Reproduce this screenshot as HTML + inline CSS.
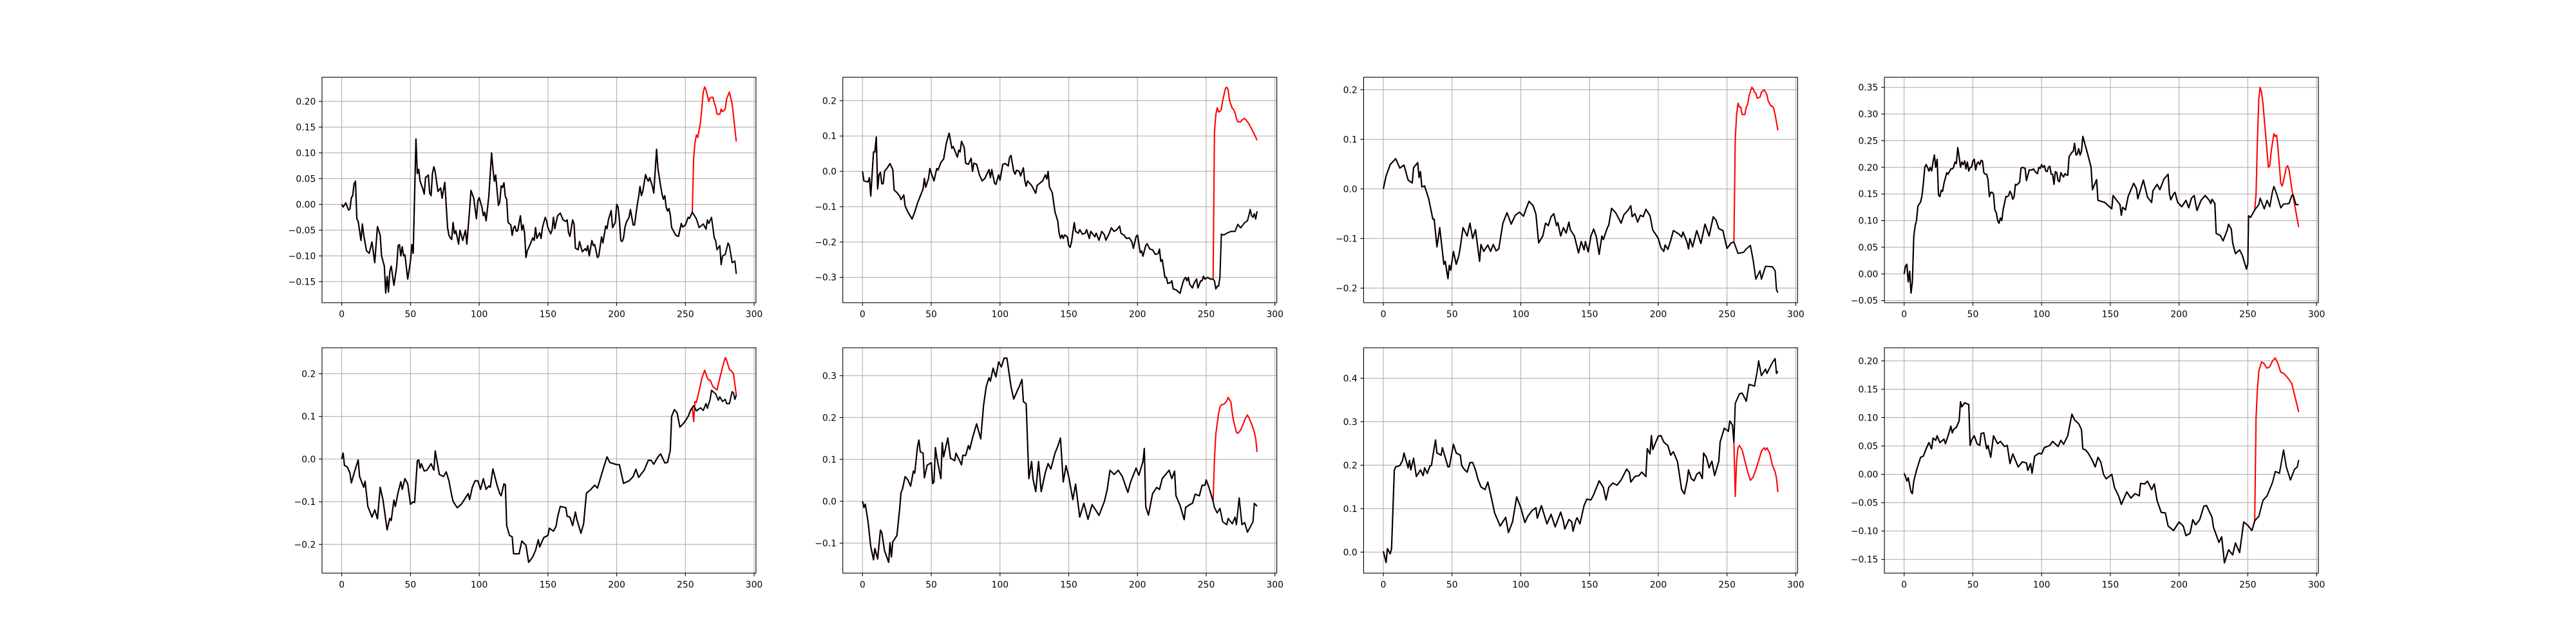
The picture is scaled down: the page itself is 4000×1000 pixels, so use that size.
<!DOCTYPE html>
<html><head><meta charset="utf-8"><style>
html,body{margin:0;padding:0;background:#fff;}
svg{display:block;}
text{font-family:"DejaVu Sans","Liberation Sans",sans-serif;font-size:13.9px;fill:#000;}
</style></head><body>
<svg id="fig" width="4000" height="1000" viewBox="0 0 4000 1000" xmlns="http://www.w3.org/2000/svg">
<rect x="0" y="0" width="4000" height="1000" fill="#fff"/>
</svg>
<script>
// ---- data: [x, value] pairs ----
const p1Black=[[0,0],[1,-0.005],[3,0.003],[5,-0.011],[6,-0.009],[7,0.013],[8,0.017],[9,0.04],[10,0.045],[11,-0.028],[12,-0.033],[14,-0.07],[15,-0.038],[16,-0.06],[18,-0.09],[20,-0.095],[22,-0.073],[24,-0.113],[26,-0.043],[28,-0.06],[29,-0.1],[31,-0.12],[32,-0.172],[33,-0.14],[34,-0.17],[35,-0.13],[36,-0.12],[38,-0.157],[40,-0.12],[41,-0.08],[42,-0.078],[43,-0.1],[44,-0.082],[45,-0.1],[46,-0.098],[48,-0.145],[50,-0.11],[51,-0.078],[52,-0.095],[54,0.127],[55,0.06],[56,0.068],[57,0.045],[59,0.03],[60,0.02],[61,0.052],[63,0.057],[64,0.022],[65,0.017],[66,0.06],[67,0.073],[68,0.063],[70,0.025],[72,0.032],[73,0.012],[75,0.043],[77,-0.045],[78,-0.06],[79,-0.065],[80,-0.068],[81,-0.035],[82,-0.057],[83,-0.051],[85,-0.077],[86,-0.05],[88,-0.07],[90,-0.05],[91,-0.077],[93,-0.01],[94,0.027],[95,0.02],[96,0.012],[98,-0.028],[99,0.007],[100,0.013],[102,-0.006],[103,-0.022],[104,-0.015],[105,-0.032],[107,0.015],[109,0.1],[110,0.07],[111,0.045],[112,0.057],[114,-0.002],[115,0.005],[116,0.036],[117,0.033],[118,0.042],[119,0.015],[120,0.01],[121,-0.035],[123,-0.04],[124,-0.06],[125,-0.045],[126,-0.042],[127,-0.052],[128,-0.051],[130,-0.022],[131,-0.05],[132,-0.04],[133,-0.055],[134,-0.103],[135,-0.09],[137,-0.078],[139,-0.065],[140,-0.07],[141,-0.045],[142,-0.066],[144,-0.055],[145,-0.066],[146,-0.045],[148,-0.025],[149,-0.032],[150,-0.045],[152,-0.057],[153,-0.05],[154,-0.025],[155,-0.047],[157,-0.022],[159,-0.017],[161,-0.03],[163,-0.033],[164,-0.03],[165,-0.055],[166,-0.062],[168,-0.03],[169,-0.038],[170,-0.085],[172,-0.088],[173,-0.072],[175,-0.092],[177,-0.086],[178,-0.09],[179,-0.08],[180,-0.1],[182,-0.07],[183,-0.08],[184,-0.078],[185,-0.09],[186,-0.103],[187,-0.1],[189,-0.063],[190,-0.075],[192,-0.042],[193,-0.047],[194,-0.03],[196,-0.012],[197,-0.045],[199,-0.035],[200,0],[201,-0.005],[202,-0.03],[203,-0.07],[204,-0.072],[205,-0.065],[206,-0.045],[207,-0.035],[209,-0.025],[210,-0.01],[212,-0.04],[213,-0.04],[215,0],[216,0.015],[217,0.035],[218,0.017],[219,0.025],[221,0.058],[222,0.05],[223,0.045],[224,0.052],[226,0.035],[227,0.022],[229,0.107],[230,0.07],[232,0.035],[233,0.02],[234,0.01],[235,0.017],[236,-0.005],[237,-0.013],[238,-0.008],[239,-0.02],[240,-0.045],[242,-0.055],[243,-0.06],[245,-0.062],[247,-0.037],[248,-0.044],[250,-0.04],[252,-0.025],[253,-0.027],[255,-0.015],[258,-0.028],[260,-0.045],[263,-0.038],[265,-0.048],[266,-0.03],[267,-0.037],[269,-0.025],[271,-0.065],[272,-0.07],[273,-0.088],[275,-0.08],[276,-0.117],[277,-0.1],[279,-0.097],[281,-0.075],[282,-0.08],[284,-0.113],[286,-0.11],[287,-0.135]];
const p1Red=[[255,-0.015],[256,0.09],[257,0.12],[258,0.135],[259,0.13],[261,0.16],[263,0.218],[264,0.228],[265,0.222],[267,0.2],[268,0.207],[270,0.208],[271,0.197],[272,0.19],[273,0.175],[275,0.175],[276,0.185],[277,0.18],[279,0.185],[280,0.205],[282,0.218],[284,0.195],[287,0.122]];

const p2Black=[[0,0],[1,-0.027],[4,-0.03],[5,-0.018],[6,-0.07],[8,0.055],[9,0.055],[10,0.097],[11,-0.05],[12,-0.01],[13,-0.003],[14,-0.035],[15,-0.035],[16,0],[18,0.01],[20,0.022],[22,0.005],[23,-0.053],[25,-0.06],[27,-0.07],[28,-0.08],[30,-0.067],[31,-0.098],[33,-0.115],[36,-0.135],[38,-0.115],[40,-0.09],[42,-0.07],[44,-0.05],[45,-0.02],[46,-0.045],[48,-0.02],[49,0.008],[50,-0.005],[52,-0.027],[54,0.008],[55,0.004],[57,0.025],[59,0.035],[61,0.08],[63,0.108],[65,0.065],[66,0.07],[68,0.05],[69,0.04],[70,0.06],[71,0.055],[72,0.085],[74,0.067],[75,0.023],[77,0.02],[79,0.037],[80,0],[81,0.023],[83,0.02],[85,-0.01],[87,-0.027],[89,-0.02],[92,0.005],[93,-0.018],[94,0.005],[96,-0.033],[97,-0.037],[99,-0.01],[100,-0.025],[102,0.02],[104,0.022],[106,0.015],[107,0.04],[108,0.045],[110,0],[111,-0.008],[112,0.003],[114,0],[115,-0.013],[117,0.01],[118,-0.025],[119,-0.042],[120,-0.027],[123,-0.04],[126,-0.062],[127,-0.04],[131,-0.027],[133,-0.01],[134,-0.022],[135,0],[136,-0.045],[138,-0.06],[140,-0.115],[142,-0.14],[143,-0.175],[144,-0.19],[145,-0.18],[146,-0.19],[147,-0.18],[149,-0.185],[150,-0.21],[151,-0.215],[152,-0.2],[154,-0.145],[155,-0.17],[157,-0.175],[158,-0.165],[160,-0.178],[162,-0.175],[163,-0.165],[165,-0.19],[166,-0.17],[169,-0.185],[170,-0.175],[172,-0.195],[174,-0.17],[176,-0.18],[177,-0.195],[179,-0.18],[181,-0.16],[183,-0.17],[185,-0.165],[187,-0.155],[188,-0.175],[190,-0.18],[192,-0.19],[194,-0.188],[196,-0.2],[197,-0.218],[199,-0.185],[200,-0.18],[202,-0.23],[203,-0.225],[204,-0.24],[206,-0.21],[207,-0.205],[209,-0.22],[211,-0.222],[213,-0.235],[215,-0.233],[216,-0.22],[217,-0.255],[218,-0.25],[220,-0.3],[221,-0.3],[222,-0.317],[224,-0.315],[225,-0.31],[226,-0.333],[228,-0.335],[231,-0.345],[233,-0.315],[234,-0.305],[235,-0.3],[236,-0.31],[237,-0.3],[238,-0.32],[240,-0.33],[241,-0.318],[243,-0.305],[244,-0.33],[246,-0.31],[247,-0.31],[248,-0.297],[249,-0.305],[251,-0.3],[253,-0.305],[255,-0.305],[256,-0.31],[257,-0.333],[258,-0.325],[259,-0.325],[260,-0.3],[261,-0.178],[263,-0.18],[265,-0.175],[268,-0.17],[271,-0.17],[273,-0.15],[275,-0.16],[276,-0.155],[278,-0.145],[280,-0.14],[281,-0.125],[282,-0.108],[283,-0.125],[284,-0.13],[285,-0.12],[286,-0.135],[287,-0.113]];
const p2Red=[[255,-0.305],[256,0.11],[257,0.16],[258,0.18],[259,0.168],[260,0.17],[261,0.175],[262,0.2],[264,0.235],[265,0.238],[266,0.23],[267,0.2],[269,0.178],[270,0.175],[271,0.165],[272,0.15],[273,0.14],[275,0.14],[276,0.145],[278,0.15],[279,0.145],[281,0.135],[283,0.12],[285,0.105],[287,0.088]];

const p3Black=[[0,0],[2,0.026],[5,0.049],[9,0.061],[12,0.042],[15,0.048],[18,0.018],[21,0.012],[22,0.043],[25,0.053],[26,0.023],[27,0.035],[28,0.004],[30,0.006],[33,-0.02],[36,-0.061],[37,-0.061],[39,-0.117],[41,-0.078],[44,-0.152],[45,-0.146],[47,-0.181],[48,-0.154],[49,-0.164],[51,-0.126],[53,-0.152],[55,-0.134],[56,-0.117],[58,-0.078],[61,-0.095],[63,-0.069],[65,-0.1],[67,-0.082],[70,-0.146],[71,-0.112],[73,-0.126],[76,-0.113],[78,-0.126],[80,-0.112],[82,-0.125],[84,-0.121],[87,-0.069],[90,-0.048],[93,-0.071],[96,-0.053],[99,-0.047],[102,-0.055],[104,-0.039],[106,-0.025],[109,-0.034],[111,-0.051],[113,-0.109],[116,-0.095],[118,-0.069],[120,-0.074],[122,-0.056],[124,-0.05],[126,-0.074],[127,-0.068],[129,-0.095],[131,-0.078],[133,-0.089],[135,-0.067],[136,-0.082],[139,-0.095],[142,-0.129],[144,-0.106],[146,-0.123],[147,-0.106],[149,-0.127],[151,-0.095],[153,-0.081],[155,-0.097],[157,-0.132],[159,-0.095],[160,-0.102],[163,-0.078],[164,-0.073],[166,-0.039],[169,-0.048],[173,-0.069],[175,-0.052],[178,-0.043],[180,-0.034],[181,-0.056],[183,-0.05],[185,-0.067],[187,-0.053],[189,-0.056],[191,-0.041],[194,-0.054],[196,-0.083],[198,-0.091],[200,-0.1],[202,-0.119],[204,-0.126],[205,-0.113],[207,-0.122],[209,-0.104],[211,-0.084],[215,-0.091],[217,-0.097],[218,-0.087],[221,-0.108],[222,-0.121],[223,-0.1],[225,-0.117],[228,-0.084],[231,-0.11],[234,-0.071],[237,-0.095],[240,-0.056],[242,-0.063],[244,-0.08],[247,-0.084],[250,-0.12],[253,-0.109],[255,-0.107],[258,-0.13],[262,-0.128],[264,-0.121],[267,-0.114],[269,-0.143],[271,-0.182],[274,-0.165],[275,-0.182],[278,-0.156],[283,-0.157],[285,-0.165],[286,-0.203],[287,-0.209]];
const p3Red=[[255,-0.107],[256,0.1],[257,0.15],[258,0.173],[259,0.165],[260,0.165],[261,0.15],[263,0.15],[264,0.165],[265,0.17],[266,0.187],[268,0.205],[269,0.202],[270,0.195],[271,0.193],[272,0.183],[274,0.185],[275,0.195],[277,0.2],[279,0.19],[280,0.177],[282,0.167],[283,0.167],[284,0.162],[285,0.15],[287,0.118]];

const p4Black=[[0,0],[1,0.015],[2,0.018],[3,-0.015],[4,0.005],[5,-0.036],[6,-0.015],[7,0.07],[8,0.09],[9,0.1],[10,0.127],[12,0.135],[13,0.147],[14,0.17],[15,0.2],[16,0.205],[17,0.2],[18,0.193],[19,0.2],[20,0.193],[21,0.21],[22,0.223],[23,0.2],[24,0.215],[25,0.148],[26,0.145],[27,0.157],[28,0.155],[29,0.17],[31,0.19],[32,0.187],[34,0.197],[35,0.197],[36,0.2],[37,0.21],[38,0.207],[39,0.237],[40,0.22],[41,0.2],[42,0.21],[43,0.205],[44,0.212],[45,0.197],[46,0.21],[47,0.193],[48,0.2],[49,0.2],[50,0.212],[51,0.215],[52,0.195],[53,0.207],[54,0.21],[55,0.205],[56,0.213],[57,0.212],[58,0.19],[59,0.187],[60,0.187],[61,0.177],[62,0.145],[63,0.153],[64,0.153],[65,0.15],[66,0.12],[67,0.115],[68,0.1],[69,0.095],[70,0.105],[71,0.1],[72,0.12],[74,0.145],[75,0.145],[76,0.147],[77,0.155],[78,0.15],[79,0.14],[80,0.145],[81,0.168],[82,0.167],[84,0.172],[85,0.198],[86,0.2],[88,0.198],[89,0.175],[90,0.185],[91,0.195],[93,0.195],[94,0.197],[96,0.19],[97,0.188],[98,0.2],[99,0.198],[100,0.205],[101,0.2],[102,0.203],[103,0.193],[104,0.192],[105,0.2],[106,0.202],[107,0.187],[108,0.187],[109,0.168],[110,0.192],[111,0.19],[112,0.175],[113,0.173],[114,0.19],[115,0.185],[116,0.182],[117,0.188],[118,0.186],[119,0.185],[120,0.22],[122,0.228],[123,0.23],[124,0.245],[125,0.223],[126,0.225],[127,0.235],[128,0.223],[129,0.23],[130,0.258],[133,0.23],[135,0.21],[136,0.2],[137,0.158],[140,0.177],[141,0.138],[146,0.134],[151,0.122],[152,0.147],[157,0.13],[158,0.11],[159,0.125],[161,0.12],[163,0.146],[167,0.17],[169,0.16],[170,0.141],[174,0.176],[177,0.144],[180,0.134],[181,0.156],[184,0.168],[186,0.158],[189,0.178],[192,0.187],[193,0.15],[194,0.139],[196,0.15],[197,0.153],[199,0.134],[202,0.126],[205,0.138],[207,0.124],[209,0.142],[211,0.147],[213,0.119],[216,0.138],[219,0.147],[222,0.138],[223,0.132],[224,0.14],[226,0.132],[227,0.076],[230,0.072],[232,0.062],[235,0.082],[236,0.093],[238,0.084],[239,0.058],[241,0.038],[244,0.045],[246,0.035],[249,0.009],[250,0.019],[250.5,0.109],[252,0.106],[255,0.12],[258,0.13],[259,0.142],[262,0.122],[264,0.138],[266,0.126],[268,0.155],[269,0.164],[271,0.15],[274,0.124],[276,0.131],[280,0.132],[282,0.147],[283,0.148],[285,0.13],[287,0.13]];
const p4Red=[[255,0.12],[256,0.15],[257,0.25],[258,0.33],[259,0.35],[260,0.34],[261,0.32],[263,0.26],[265,0.2],[266,0.203],[267,0.23],[269,0.263],[270,0.258],[271,0.26],[272,0.235],[274,0.17],[275,0.165],[276,0.175],[278,0.2],[279,0.203],[280,0.195],[282,0.16],[284,0.13],[287,0.088]];

const p5Black=[[0,0],[1,0.014],[2,-0.015],[4,-0.018],[6,-0.033],[7,-0.056],[9,-0.033],[12,-0.002],[13,-0.041],[16,-0.066],[17,-0.052],[19,-0.111],[22,-0.136],[24,-0.119],[26,-0.14],[28,-0.066],[30,-0.096],[33,-0.166],[35,-0.139],[36,-0.144],[38,-0.096],[39,-0.111],[41,-0.078],[43,-0.053],[44,-0.071],[46,-0.046],[48,-0.058],[50,-0.106],[52,-0.1],[53,-0.102],[55,-0.004],[56,-0.002],[57,-0.021],[58,-0.011],[60,-0.028],[62,-0.026],[65,-0.011],[67,-0.026],[68,0.019],[71,-0.036],[74,-0.041],[76,-0.03],[78,-0.051],[80,-0.085],[81,-0.099],[84,-0.114],[87,-0.106],[89,-0.096],[92,-0.081],[93,-0.095],[95,-0.066],[97,-0.051],[99,-0.051],[101,-0.071],[103,-0.046],[105,-0.071],[107,-0.063],[108,-0.066],[110,-0.023],[113,-0.061],[115,-0.081],[116,-0.086],[118,-0.058],[119,-0.06],[120,-0.156],[122,-0.179],[124,-0.182],[125,-0.222],[129,-0.222],[131,-0.192],[134,-0.202],[136,-0.242],[139,-0.229],[141,-0.214],[143,-0.189],[144,-0.206],[147,-0.184],[150,-0.179],[151,-0.162],[154,-0.169],[156,-0.157],[157,-0.136],[159,-0.111],[163,-0.114],[164,-0.134],[166,-0.136],[168,-0.156],[170,-0.124],[171,-0.141],[174,-0.174],[176,-0.151],[178,-0.08],[181,-0.072],[184,-0.061],[186,-0.068],[191,-0.015],[193,0.005],[195,-0.008],[200,-0.013],[202,-0.013],[205,-0.057],[209,-0.051],[212,-0.041],[214,-0.024],[216,-0.043],[220,-0.026],[223,-0.003],[225,-0.003],[227,-0.012],[230,0.005],[232,0.012],[235,-0.009],[237,-0.008],[239,0.02],[240,0.1],[242,0.116],[244,0.108],[246,0.075],[249,0.085],[252,0.1],[254,0.116],[256,0.125],[258,0.113],[261,0.12],[263,0.114],[265,0.13],[266,0.119],[268,0.14],[269,0.161],[272,0.153],[274,0.138],[275,0.146],[277,0.135],[279,0.14],[280,0.13],[282,0.13],[284,0.158],[285,0.155],[286,0.14],[287,0.15]];
const p5Red=[[255,0.12],[256,0.088],[257,0.135],[258,0.133],[260,0.16],[262,0.19],[264,0.208],[266,0.19],[267,0.185],[268,0.185],[270,0.17],[273,0.162],[275,0.19],[277,0.215],[279,0.238],[280,0.232],[282,0.21],[283,0.208],[285,0.2],[287,0.15]];

const p6Black=[[0,0],[1,-0.015],[2,-0.007],[4,-0.049],[6,-0.108],[8,-0.14],[9,-0.113],[11,-0.138],[13,-0.069],[14,-0.074],[16,-0.118],[19,-0.146],[20,-0.099],[21,-0.133],[22,-0.097],[25,-0.082],[27,-0.018],[28,0.021],[29,0.028],[31,0.059],[33,0.051],[35,0.036],[37,0.072],[38,0.067],[40,0.131],[41,0.146],[42,0.118],[44,0.115],[45,0.056],[47,0.086],[49,0.09],[50,0.092],[51,0.042],[52,0.046],[53,0.128],[54,0.105],[57,0.054],[58,0.14],[59,0.106],[62,0.151],[64,0.103],[67,0.097],[68,0.115],[72,0.087],[73,0.11],[75,0.109],[77,0.133],[78,0.124],[80,0.151],[82,0.174],[83,0.185],[86,0.149],[88,0.228],[90,0.274],[92,0.295],[93,0.287],[95,0.318],[97,0.297],[99,0.333],[101,0.321],[103,0.342],[105,0.342],[108,0.274],[110,0.244],[113,0.267],[114,0.274],[116,0.291],[117,0.238],[119,0.233],[121,0.054],[123,0.095],[124,0.054],[126,0.023],[128,0.095],[130,0.023],[133,0.069],[135,0.09],[137,0.077],[140,0.115],[142,0.131],[144,0.151],[146,0.046],[148,0.085],[150,0.059],[153,0.004],[155,0.041],[158,-0.038],[161,-0.005],[164,-0.043],[167,-0.008],[170,-0.023],[172,-0.034],[176,0],[178,0.028],[180,0.074],[183,0.064],[186,0.074],[189,0.059],[193,0.021],[195,0.046],[199,0.079],[201,0.062],[204,0.095],[205,0.126],[206,-0.013],[208,-0.033],[211,0.018],[214,0.033],[216,0.028],[218,0.054],[223,0.074],[225,0.054],[227,0.072],[228,0.013],[231,-0.01],[234,-0.044],[235,-0.015],[238,-0.008],[240,-0.005],[242,0.017],[245,0.013],[247,0.038],[249,0.038],[250,0.051],[252,0.033],[255,0],[256,-0.015],[258,-0.028],[260,-0.017],[262,-0.049],[265,-0.056],[266,-0.041],[269,-0.054],[271,-0.038],[272,-0.056],[274,0.008],[276,-0.056],[278,-0.051],[280,-0.074],[284,-0.049],[285,-0.005],[287,-0.012]];
const p6Red=[[255,0],[256,0.1],[257,0.16],[259,0.21],[260,0.225],[261,0.23],[263,0.232],[265,0.24],[266,0.248],[268,0.237],[269,0.21],[270,0.19],[272,0.165],[273,0.162],[275,0.17],[277,0.185],[278,0.195],[280,0.206],[281,0.2],[283,0.185],[285,0.165],[286,0.15],[287,0.118]];

const p7Black=[[0,0.002],[2,-0.024],[3,0.008],[5,-0.004],[6,0.008],[8,0.189],[9,0.196],[12,0.199],[14,0.211],[15,0.228],[18,0.194],[19,0.211],[20,0.189],[22,0.216],[24,0.174],[27,0.189],[29,0.176],[30,0.194],[32,0.181],[34,0.199],[35,0.199],[36,0.221],[38,0.258],[39,0.228],[42,0.223],[43,0.24],[47,0.196],[48,0.196],[51,0.248],[53,0.228],[56,0.223],[57,0.199],[59,0.19],[61,0.184],[63,0.206],[65,0.206],[67,0.189],[69,0.166],[71,0.15],[74,0.144],[76,0.161],[78,0.134],[81,0.09],[83,0.075],[85,0.06],[89,0.08],[91,0.045],[94,0.07],[97,0.127],[100,0.102],[103,0.068],[105,0.082],[108,0.095],[111,0.102],[112,0.078],[115,0.107],[119,0.065],[122,0.087],[125,0.058],[127,0.075],[129,0.092],[131,0.07],[132,0.053],[135,0.075],[137,0.07],[138,0.048],[140,0.073],[141,0.079],[143,0.065],[146,0.107],[148,0.122],[151,0.12],[153,0.132],[157,0.164],[160,0.149],[162,0.12],[164,0.149],[167,0.159],[170,0.154],[173,0.166],[177,0.191],[179,0.183],[180,0.161],[183,0.174],[186,0.176],[188,0.184],[191,0.174],[192,0.238],[194,0.226],[195,0.268],[196,0.236],[200,0.267],[202,0.268],[204,0.253],[207,0.245],[209,0.223],[211,0.231],[214,0.208],[217,0.144],[219,0.134],[221,0.164],[222,0.189],[224,0.169],[226,0.164],[228,0.179],[230,0.184],[232,0.169],[233,0.228],[235,0.218],[237,0.194],[239,0.209],[241,0.176],[244,0.209],[245,0.253],[248,0.285],[251,0.278],[252,0.302],[254,0.292],[255,0.253],[256,0.342],[259,0.364],[261,0.366],[264,0.347],[266,0.386],[268,0.384],[270,0.382],[272,0.416],[273,0.44],[275,0.406],[278,0.421],[279,0.411],[283,0.436],[285,0.445],[286,0.411],[287,0.416]];
const p7Red=[[255,0.253],[256,0.128],[257,0.21],[258,0.24],[259,0.245],[261,0.235],[263,0.21],[265,0.185],[266,0.175],[267,0.165],[269,0.172],[271,0.19],[273,0.21],[275,0.232],[277,0.24],[278,0.235],[279,0.24],[281,0.228],[283,0.2],[285,0.185],[286,0.17],[287,0.138]];

const p8Black=[[0,0.002],[1,-0.004],[2,-0.012],[3,-0.006],[5,-0.031],[6,-0.034],[7,-0.012],[9,0.007],[12,0.03],[14,0.032],[16,0.045],[18,0.056],[20,0.045],[21,0.064],[23,0.06],[24,0.068],[26,0.056],[29,0.062],[30,0.054],[32,0.068],[34,0.085],[35,0.073],[36,0.079],[38,0.083],[40,0.094],[41,0.128],[42,0.119],[44,0.126],[47,0.123],[48,0.051],[49,0.06],[51,0.068],[53,0.054],[55,0.051],[56,0.072],[58,0.073],[60,0.045],[61,0.051],[63,0.03],[65,0.068],[68,0.054],[70,0.058],[73,0.049],[75,0.051],[77,0.019],[79,0.036],[83,0.013],[86,0.022],[89,0.02],[90,0.007],[92,0.019],[93,0.002],[95,0.032],[98,0.037],[100,0.036],[102,0.047],[106,0.051],[108,0.058],[112,0.049],[114,0.06],[116,0.053],[119,0.068],[122,0.106],[124,0.096],[127,0.089],[129,0.079],[130,0.045],[132,0.043],[134,0.037],[137,0.024],[139,0.013],[141,0.03],[143,0.022],[145,0],[147,-0.008],[149,-0.004],[151,0],[153,-0.023],[156,-0.038],[158,-0.053],[162,-0.031],[165,-0.042],[168,-0.034],[171,-0.038],[172,-0.016],[175,-0.017],[177,-0.012],[180,-0.027],[182,-0.017],[184,-0.046],[187,-0.067],[190,-0.068],[192,-0.091],[196,-0.099],[200,-0.084],[203,-0.091],[205,-0.108],[208,-0.104],[210,-0.08],[212,-0.089],[215,-0.08],[218,-0.056],[220,-0.055],[224,-0.076],[225,-0.093],[229,-0.12],[231,-0.11],[233,-0.156],[236,-0.133],[239,-0.142],[241,-0.121],[244,-0.138],[247,-0.084],[250,-0.09],[253,-0.099],[255,-0.082],[258,-0.074],[261,-0.046],[264,-0.038],[268,-0.014],[270,0.005],[273,0.002],[276,0.043],[278,0.013],[281,-0.01],[284,0.009],[286,0.013],[287,0.025]];
const p8Red=[[255,-0.082],[256,0.1],[257,0.15],[258,0.182],[259,0.19],[260,0.198],[262,0.195],[263,0.19],[264,0.187],[266,0.19],[268,0.2],[270,0.205],[272,0.195],[274,0.18],[276,0.178],[278,0.173],[280,0.167],[282,0.16],[284,0.14],[287,0.11]];

const xTicks=[0,50,100,150,200,250,300];
const yTicks1=[-0.15,-0.10,-0.05,0.00,0.05,0.10,0.15,0.20];
const yTicks2=[-0.3,-0.2,-0.1,0.0,0.1,0.2];
const yTicks3=[-0.2,-0.1,0.0,0.1,0.2];
const yTicks4=[-0.05,0.00,0.05,0.10,0.15,0.20,0.25,0.30,0.35];
const yTicks5=[-0.2,-0.1,0.0,0.1,0.2];
const yTicks6=[-0.1,0.0,0.1,0.2,0.3];
const yTicks7=[0.0,0.1,0.2,0.3,0.4];
const yTicks8=[-0.15,-0.10,-0.05,0.00,0.05,0.10,0.15,0.20];
const yLims=[[-0.1908,0.2467],[-0.3717,0.2662],[-0.2294,0.2251],[-0.054,0.3689],[-0.2674,0.2609],[-0.1718,0.3667],[-0.0484,0.4701],[-0.1742,0.2231]];

const NS="http://www.w3.org/2000/svg";
const svg=document.getElementById('fig');
const panels=[
 {black:p1Black,red:p1Red,ticks:yTicks1,dec:2},
 {black:p2Black,red:p2Red,ticks:yTicks2,dec:1},
 {black:p3Black,red:p3Red,ticks:yTicks3,dec:1},
 {black:p4Black,red:p4Red,ticks:yTicks4,dec:2},
 {black:p5Black,red:p5Red,ticks:yTicks5,dec:1},
 {black:p6Black,red:p6Red,ticks:yTicks6,dec:1},
 {black:p7Black,red:p7Red,ticks:yTicks7,dec:1},
 {black:p8Black,red:p8Red,ticks:yTicks8,dec:2}
];
const W=673.9,H=350,X0=[500,1308.7,2117.4,2926.1],Y0=[120,540];
const XMIN=-14.35,XMAX=301.35;
function mk(tag,attrs,parent){const e=document.createElementNS(NS,tag);for(const k in attrs)e.setAttribute(k,attrs[k]);parent.appendChild(e);return e;}
function fmt(v,d){const s=Math.abs(v).toFixed(d);return (v<-1e-9?'\u2212':'')+s;}

panels.forEach((p,i)=>{
  const ax=X0[i%4],ay=Y0[Math.floor(i/4)];
  const [ymin,ymax]=yLims[i];
  const sx=x=>ax+(x-XMIN)/(XMAX-XMIN)*W;
  const sy=y=>ay+H-(y-ymin)/(ymax-ymin)*H;
  const g=mk('g',{},svg);
  
  
  // grid
  xTicks.forEach(t=>{
    const l=mk('line',{x1:sx(t),x2:sx(t),y1:ay,y2:ay+H,stroke:'#b0b0b0','stroke-width':1.1},g);
    
    
  });
  p.ticks.forEach(t=>{
    const l=mk('line',{x1:ax,x2:ax+W,y1:sy(t),y2:sy(t),stroke:'#b0b0b0','stroke-width':1.1},g);
    
    
  });
  // red series (shares history with black up to x=255)
  const redPts=p.black.filter(q=>q[0]<255).concat(p.red);
  const rl=mk('polyline',{points:redPts.map(q=>sx(q[0]).toFixed(1)+','+sy(q[1]).toFixed(1)).join(' '),fill:'none',stroke:'#ff0000','stroke-width':2.08,'stroke-linejoin':'round'},g);
  
  
  const bl=mk('polyline',{points:p.black.map(q=>sx(q[0]).toFixed(1)+','+sy(q[1]).toFixed(1)).join(' '),fill:'none',stroke:'#000','stroke-width':2.08,'stroke-linejoin':'round'},g);
  
  
  // frame
  const fr=mk('rect',{x:ax,y:ay,width:W,height:H,fill:'none',stroke:'#000','stroke-width':1.1},g);
  
  
  // x ticks
  xTicks.forEach(t=>{
    const x=sx(t);
    const tk=mk('line',{x1:x,x2:x,y1:ay+H,y2:ay+H+4.9,stroke:'#000','stroke-width':1.1},g);
    
    
    const tx=mk('text',{x:x,y:ay+H+22.5,'text-anchor':'middle'},g);
    tx.textContent=String(t);
    
    
  });
  // y ticks
  p.ticks.forEach(t=>{
    const y=sy(t);
    const tk=mk('line',{x1:ax-4.9,x2:ax,y1:y,y2:y,stroke:'#000','stroke-width':1.1},g);
    
    
    const tx=mk('text',{x:ax-9.7,y:y+5,'text-anchor':'end'},g);
    tx.textContent=fmt(t,p.dec);
    
    
  });
});
</script>
</body></html>
